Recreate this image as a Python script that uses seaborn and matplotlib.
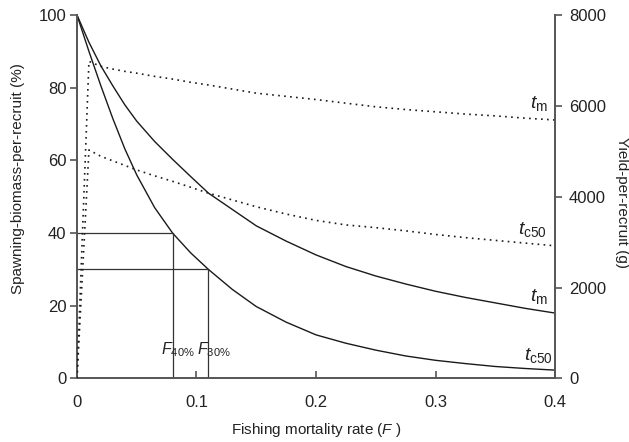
import numpy as np
import pandas as pd
import matplotlib
matplotlib.use("Agg")
import matplotlib.pyplot as plt
import seaborn as sns

# fishing mortality grid
F_vals = [0, 0.01, 0.02, 0.03, 0.04, 0.05, 0.065, 0.08, 0.095, 0.11, 0.13,
          0.15, 0.175, 0.2, 0.225, 0.25, 0.275, 0.3, 0.325, 0.35, 0.375, 0.4]

# spawning-biomass-per-recruit (%)
sbpr_tm = [100, 92.5, 86, 80.5, 75.3, 70.8, 65.2, 60.3, 55.6, 51, 46.5,
           42, 37.8, 34, 30.8, 28.2, 26, 24, 22.3, 20.8, 19.3, 18]
sbpr_tc50 = [100, 90, 80.5, 71.5, 63.2, 56, 47, 40, 34.6, 30, 24.5,
             19.8, 15.5, 12, 9.7, 7.8, 6.2, 5, 4.1, 3.3, 2.75, 2.3]

# yield-per-recruit (g)
ypr_tm = [0, 6980, 6870, 6810, 6760, 6720, 6650, 6590, 6520, 6460, 6370,
          6280, 6210, 6140, 6060, 5980, 5920, 5870, 5820, 5780, 5730, 5690]
ypr_tc50 = [0, 5030, 4890, 4790, 4690, 4590, 4460, 4340, 4210, 4080, 3930,
            3780, 3620, 3480, 3380, 3320, 3250, 3170, 3100, 3040, 2980, 2920]

# reference points
f_ref = [0.08, 0.11]
sbpr_ref = [40, 30]
ref_labels = [r"$F_{\mathrm{40\%}}$", r"$F_{\mathrm{30\%}}$"]

sns.set_style("ticks")
plt.rcParams["font.family"] = ["Liberation Sans", "DejaVu Sans"]
plt.rcParams["mathtext.fontset"] = "custom"
plt.rcParams["mathtext.rm"] = "Liberation Sans"
plt.rcParams["mathtext.it"] = "Liberation Sans:italic"
plt.rcParams["mathtext.default"] = "it"

txt = "#222222"
spine_c = "#555555"
line_c = "#1a1a1a"

df = pd.DataFrame({"F": F_vals, "sbpr_tm": sbpr_tm, "sbpr_tc50": sbpr_tc50,
                   "ypr_tm": ypr_tm, "ypr_tc50": ypr_tc50})

fig, ax = plt.subplots(figsize=(6.29, 4.42), dpi=100)
fig.subplots_adjust(left=0.1224, right=0.8824, top=0.966, bottom=0.1437)
ax2 = ax.twinx()

sns.lineplot(data=df, x="F", y="sbpr_tm", ax=ax, color=line_c, lw=1.0)
sns.lineplot(data=df, x="F", y="sbpr_tc50", ax=ax, color=line_c, lw=1.0)
sns.lineplot(data=df, x="F", y="ypr_tm", ax=ax2, color=line_c, lw=1.2,
             linestyle=(0, (1.0, 2.6)))
sns.lineplot(data=df, x="F", y="ypr_tc50", ax=ax2, color=line_c, lw=1.2,
             linestyle=(0, (1.0, 2.6)))

# F40% and F30% guide lines
for f, s, lab in zip(f_ref, sbpr_ref, ref_labels):
    ax.plot([0, f], [s, s], color="#333333", lw=0.9)
    ax.plot([f, f], [0, s], color="#333333", lw=0.9)
    ax.text(f - 0.0098, 7.8, lab, ha="left", va="center", fontsize=11.5, color=txt)

# curve labels
ax2.text(0.394, 6050, r"$t_{\mathrm{m}}$", ha="right", va="center", fontsize=14, color=txt)
ax2.text(0.393, 3270, r"$t_{\mathrm{c50}}$", ha="right", va="center", fontsize=14, color=txt)
ax.text(0.394, 22.5, r"$t_{\mathrm{m}}$", ha="right", va="center", fontsize=14, color=txt)
ax.text(0.398, 6.3, r"$t_{\mathrm{c50}}$", ha="right", va="center", fontsize=14, color=txt)

ax.set_xlim(0, 0.4)
ax.set_ylim(0, 100)
ax2.set_ylim(0, 8000)
ax.set_xticks([0, 0.1, 0.2, 0.3, 0.4])
ax.set_xticklabels(["0", "0.1", "0.2", "0.3", "0.4"])
ax.set_yticks([0, 20, 40, 60, 80, 100])
ax2.set_yticks([0, 2000, 4000, 6000, 8000])

ax.set_xlabel(r"Fishing mortality rate ($F$ )", fontsize=11, color=txt, labelpad=8)
ax.set_ylabel("Spawning-biomass-per-recruit (%)", fontsize=11, color=txt,
              va="center")
ax.yaxis.set_label_coords(-0.123, 0.549)
ax2.set_ylabel("Yield-per-recruit (g)", fontsize=11, color=txt, rotation=270,
               va="center")
ax2.yaxis.set_label_coords(1.141, 0.483)

for a in (ax, ax2):
    a.spines["top"].set_visible(False)
    for side in ("left", "right", "bottom"):
        a.spines[side].set_color(spine_c)
        a.spines[side].set_linewidth(1.4)
ax.spines["right"].set_visible(False)
ax2.spines["left"].set_visible(False)
ax2.spines["bottom"].set_visible(False)

ax.tick_params(axis="y", direction="out", length=5, width=1.2, colors=spine_c,
               labelcolor=txt, labelsize=12, pad=2.5)
ax.tick_params(axis="x", direction="in", length=5, width=1.2, colors=spine_c,
               labelcolor=txt, labelsize=12, pad=12)
ax2.tick_params(axis="y", direction="out", length=5, width=1.2, colors=spine_c,
                labelcolor=txt, labelsize=12, pad=5)

fig.savefig("out.png", dpi=100)
